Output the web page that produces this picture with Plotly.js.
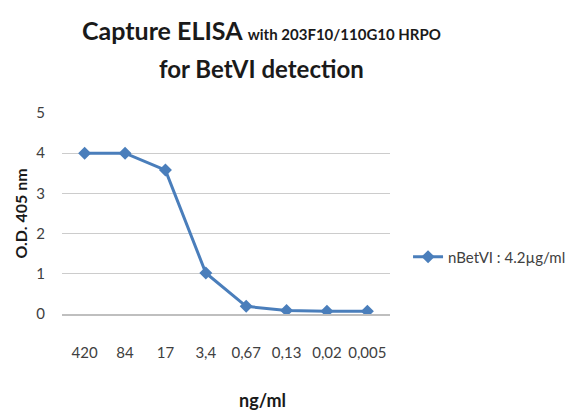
<!DOCTYPE html>
<html>
<head>
<meta charset="utf-8">
<script src="https://cdn.plot.ly/plotly-3.0.1.min.js"></script>
<style>html,body{margin:0;padding:0;background:#fff;}#chart{width:569px;height:412px;}</style>
</head>
<body>
<div id="chart"></div>
<script>
var concentrations = ["420", "84", "17", "3,4", "0,67", "0,13", "0,02", "0,005"];
var odValues = [4.0, 4.0, 3.58, 1.02, 0.19, 0.09, 0.07, 0.07];
var seriesName = "nBetVI : 4.2\u00b5g/ml";
var yTicks = [0, 1, 2, 3, 4, 5];

var font = "Lato, 'Open Sans', sans-serif";

var trace = {
  x: concentrations,
  y: odValues,
  type: "scatter",
  mode: "lines+markers",
  name: seriesName,
  line: {color: "#4a7ebb", width: 3},
  marker: {symbol: "diamond", size: 10, color: "#4a7ebb"}
};

var cx = (261 - 62) / 328;
var layout = {
  width: 569,
  height: 412,
  margin: {l: 62, r: 179, t: 113, b: 98, autoexpand: false},
  paper_bgcolor: "#ffffff",
  plot_bgcolor: "#ffffff",
  showlegend: true,
  xaxis: {
    type: "category",
    tickvals: concentrations,
    ticktext: concentrations,
    showgrid: false,
    showline: true,
    linecolor: "#bfbfbf",
    linewidth: 1.5,
    ticks: "outside",
    ticklen: 24,
    tickcolor: "rgba(0,0,0,0)",
    tickfont: {family: font, size: 15, color: "#404040"},
    zeroline: false,
    fixedrange: true
  },
  yaxis: {
    range: [0, 5],
    tickvals: yTicks,
    showgrid: true,
    gridcolor: "#cccccc",
    gridwidth: 1,
    showline: false,
    zeroline: false,
    ticks: "outside",
    ticklen: 13,
    tickcolor: "rgba(0,0,0,0)",
    tickfont: {family: font, size: 15, color: "#404040"},
    title: {text: "<b>O.D. 405 nm</b>", font: {family: font, size: 16, color: "#1a1a1a"}, standoff: 4}
  },
  legend: {
    x: 1.055, xref: "paper", xanchor: "left",
    y: 0.284, yanchor: "middle",
    font: {family: font, size: 15, color: "#404040"},
    bgcolor: "rgba(0,0,0,0)"
  },
  annotations: [
    {
      text: "<b>Capture ELISA <span style='font-size:15px'>with 203F10/110G10 HRPO</span></b>",
      xref: "paper", yref: "paper",
      x: cx, y: (314 - 30) / 201,
      xanchor: "center", yanchor: "middle",
      showarrow: false,
      font: {family: font, size: 25, color: "#1a1a1a"}
    },
    {
      text: "<b>for BetVI detection</b>",
      xref: "paper", yref: "paper",
      x: cx, y: (314 - 68) / 201,
      xanchor: "center", yanchor: "middle",
      showarrow: false,
      font: {family: font, size: 24, color: "#1a1a1a"}
    },
    {
      text: "<b>ng/ml</b>",
      xref: "paper", yref: "paper",
      x: (262 - 62) / 328, y: (314 - 400) / 201,
      xanchor: "center", yanchor: "middle",
      showarrow: false,
      font: {family: font, size: 18, color: "#1a1a1a"}
    }
  ]
};

Plotly.newPlot("chart", [trace], layout, {displayModeBar: false, staticPlot: true});
</script>
</body>
</html>
